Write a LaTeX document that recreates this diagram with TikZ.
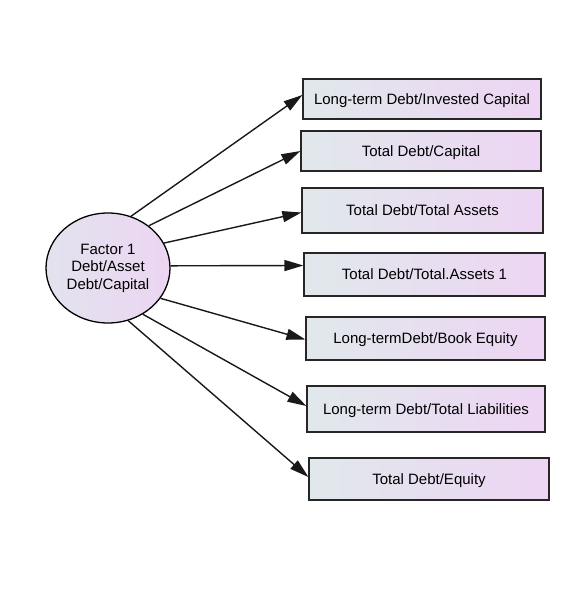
\documentclass[tikz,border=0pt]{standalone}
\usepackage{fontspec}
\setmainfont{Liberation Sans}
\usetikzlibrary{arrows.meta,shadows,shapes.geometric,calc}
\definecolor{boxL}{HTML}{E1E8EC}
\definecolor{boxR}{HTML}{EDD5F3}
\definecolor{ellL}{HTML}{E2E3EE}
\definecolor{ellR}{HTML}{ECD5F2}
\begin{document}
\begin{tikzpicture}[x=1pt,y=-1pt,
  lbl/.style={font=\fontsize{15}{17}\selectfont, text=black},
  varbox/.style={lbl, draw=black!85, line width=1.2pt, left color=boxL, right color=boxR,
    inner sep=0pt, rectangle, text height=10.8pt, text depth=0pt,
    drop shadow={shadow xshift=1.1pt, shadow yshift=-1.1pt, fill=black!45, opacity=1}},
  factor/.style={lbl, ellipse, draw=black, line width=1.3pt, left color=ellL, right color=ellR,
    align=center, inner sep=0pt, minimum width=124pt, minimum height=110pt},
  link/.style={draw=black!90, line width=1.4pt, -{Triangle[length=19pt,width=11pt]}}]
\useasboundingbox[fill=white] (0,0) rectangle (571,609);

\node[factor] (f) at (108,268) {Factor 1\\[0.5pt]Debt/Asset\\[0.5pt]Debt/Capital};

\node[varbox, minimum width=238pt, minimum height=40pt] (b1) at (422,99) {Long-term Debt/Invested Capital};
\node[varbox, minimum width=240pt, minimum height=40pt] (b2) at (421,151) {Total Debt/Capital};
\node[varbox, minimum width=241pt, minimum height=45pt] (b3) at (422.5,210.5) {Total Debt/Total Assets};
\node[varbox, minimum width=241pt, minimum height=43pt] (b4) at (424.5,274.5) {Total Debt/Total.Assets 1};
\node[varbox, minimum width=239pt, minimum height=43pt] (b5) at (425.5,338.5) {Long-termDebt/Book Equity};
\node[varbox, minimum width=238pt, minimum height=46pt] (b6) at (426,409) {Long-term Debt/Total Liabilities};
\node[varbox, minimum width=240pt, minimum height=42pt] (b7) at (429,479) {Total Debt/Equity};

\draw[link] (f.66)  -- ($(b1.west)+(0,-4)$);
\draw[link] (f.46)  -- ($(b2.west)+(0,0)$);
\draw[link] (f.24)  -- ($(b3.west)+(0,2)$);
\draw[link] (f.2)   -- ($(b4.west)+(0,-9)$);
\draw[link] (f.-30) -- ($(b5.west)+(0,1)$);
\draw[link] (f.-53) -- ($(b6.west)+(0,-3)$);
\draw[link] (f.-69) -- ($(b7.west)+(0,-2)$);
\end{tikzpicture}
\end{document}
